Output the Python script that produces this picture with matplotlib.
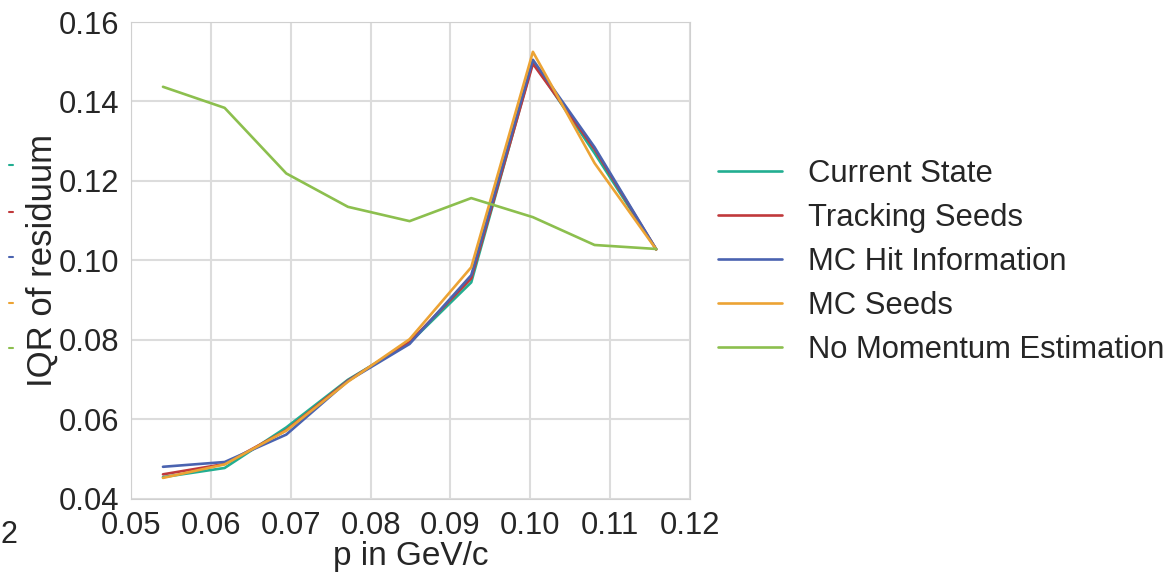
import matplotlib
matplotlib.use("Agg")
import matplotlib.pyplot as plt
import seaborn as sns
from matplotlib.lines import Line2D

sns.set_style("whitegrid")
plt.rcParams['font.family'] = ['Liberation Sans', 'DejaVu Sans']

p = [0.0540, 0.06172, 0.06944, 0.07716, 0.08488, 0.0926, 0.10032, 0.10804, 0.11576]
current_state = [0.0455, 0.0478, 0.0580, 0.0700, 0.0793, 0.0945, 0.1500, 0.1270, 0.1028]
tracking_seeds = [0.0462, 0.0488, 0.0573, 0.0698, 0.0795, 0.0955, 0.1495, 0.1280, 0.1028]
mc_hit_info = [0.0481, 0.0493, 0.0562, 0.0697, 0.0790, 0.0963, 0.1505, 0.1285, 0.1028]
mc_seeds = [0.0453, 0.0487, 0.0572, 0.0695, 0.0802, 0.0983, 0.1525, 0.1245, 0.1028]
no_momentum = [0.1437, 0.1384, 0.1219, 0.1135, 0.1099, 0.1157, 0.1109, 0.1039, 0.1029]

labels = ["Current State", "Tracking Seeds", "MC Hit Information", "MC Seeds",
          "No Momentum Estimation"]
colors = ["#22ae91", "#c0393b", "#4a63b0", "#eca334", "#8cbf4e"]
series = [current_state, tracking_seeds, mc_hit_info, mc_seeds, no_momentum]

fig = plt.figure(figsize=(11.72, 5.79), dpi=100)
ax = fig.add_axes([0.1118, 0.1382, 0.4770, 0.8238])

for s, lab, c in zip(series, labels, colors):
    ax.plot(p, s, color=c, lw=1.9, label=lab)

ax.set_xlim(0.05, 0.12)
ax.set_ylim(0.04, 0.16)
ax.set_xticks([0.05, 0.06, 0.07, 0.08, 0.09, 0.10, 0.11, 0.12])
ax.set_yticks([0.04, 0.06, 0.08, 0.10, 0.12, 0.14, 0.16])
ax.tick_params(labelsize=22.3, colors="#262626", pad=5)
ax.set_xlabel("p in GeV/c", fontsize=24, color="#262626", labelpad=0)
ax.set_ylabel("IQR of residuum", fontsize=25, color="#262626", labelpad=0)
for sp in ax.spines.values():
    sp.set_color("#d0d0d0")
ax.grid(color="#dcdcdc", lw=1.5)

leg = ax.legend(loc="center left", bbox_to_anchor=(1.0, 0.497), frameon=False,
                fontsize=22.3, handlelength=2.06, handletextpad=0.84, labelspacing=0.45)
for t in leg.get_texts():
    t.set_color("#262626")

# cropped artefacts at the left edge of the picture
for yy, c in zip([165, 212, 257, 303, 348], colors):
    yf = 1 - yy / 579
    fig.add_artist(Line2D([9 / 1172, 13 / 1172], [yf, yf], color=c, lw=1.5,
                          transform=fig.transFigure))
fig.text(0.0, 1 - 535 / 579, "2", fontsize=22, color="#262626", va="center", ha="left")

fig.savefig("out.png", dpi=100)
